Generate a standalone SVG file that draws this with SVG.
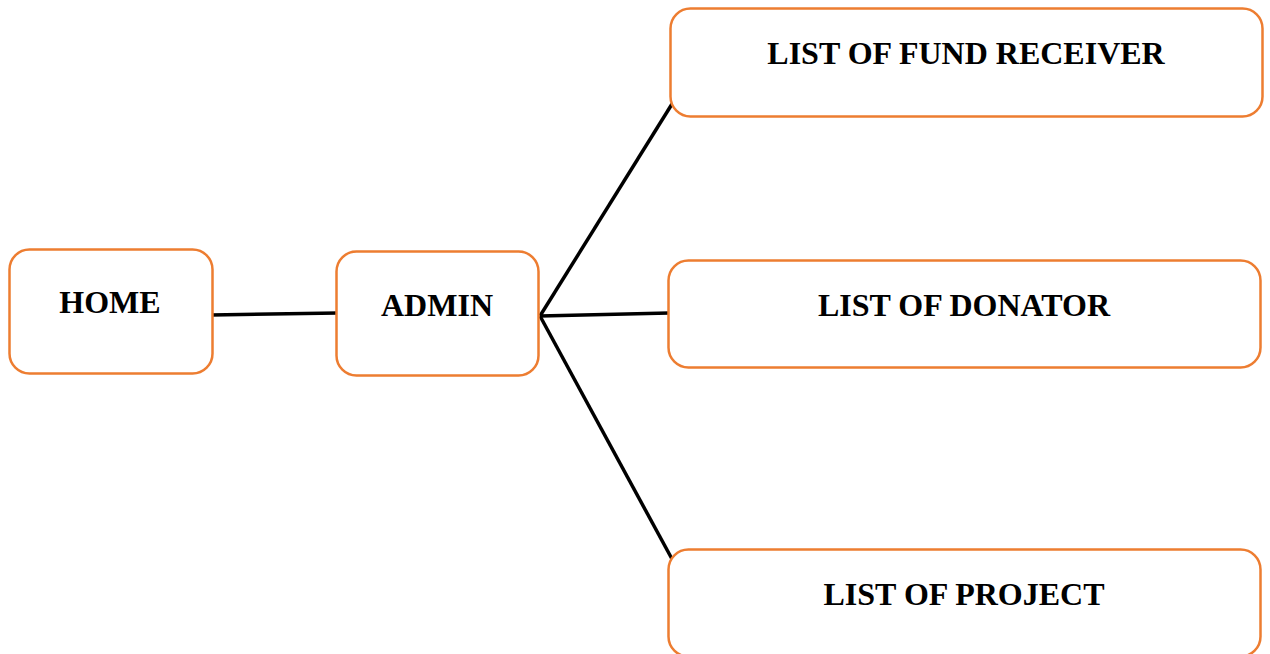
<svg xmlns="http://www.w3.org/2000/svg" width="1270" height="654" viewBox="0 0 1270 654">
<style>
.box{fill:#fff;stroke:#ED7D31;stroke-width:2.5}
.lbl{font-family:"Liberation Serif","Times New Roman",serif;font-weight:bold;font-size:32px;fill:#000;text-anchor:middle}
.conn{stroke:#000;stroke-width:3.5;fill:none;stroke-linecap:butt}
</style>
<rect width="1270" height="654" fill="#fff"/>
<g id="connectors">
<line class="conn" x1="211" y1="315" x2="338" y2="313"/>
<line class="conn" x1="540" y1="316" x2="672" y2="104"/>
<line class="conn" x1="540" y1="316" x2="669" y2="313"/>
<line class="conn" x1="540" y1="316" x2="672" y2="559"/>
</g>
<g id="home">
<rect class="box" x="9.5" y="249.5" width="203" height="124" rx="20"/>
<text class="lbl" x="110" y="313">HOME</text>
</g>
<g id="admin">
<rect class="box" x="336.5" y="251.5" width="202" height="124" rx="20"/>
<text class="lbl" x="437" y="316">ADMIN</text>
</g>
<g id="fund-receiver">
<rect class="box" x="670.5" y="8.5" width="592" height="108" rx="20"/>
<text class="lbl" x="966" y="64">LIST OF FUND RECEIVER</text>
</g>
<g id="donator">
<rect class="box" x="668.5" y="260.5" width="592" height="107" rx="20"/>
<text class="lbl" x="964" y="316">LIST OF DONATOR</text>
</g>
<g id="project">
<rect class="box" x="668.5" y="549.5" width="592" height="107" rx="20"/>
<text class="lbl" x="964" y="605">LIST OF PROJECT</text>
</g>
</svg>
